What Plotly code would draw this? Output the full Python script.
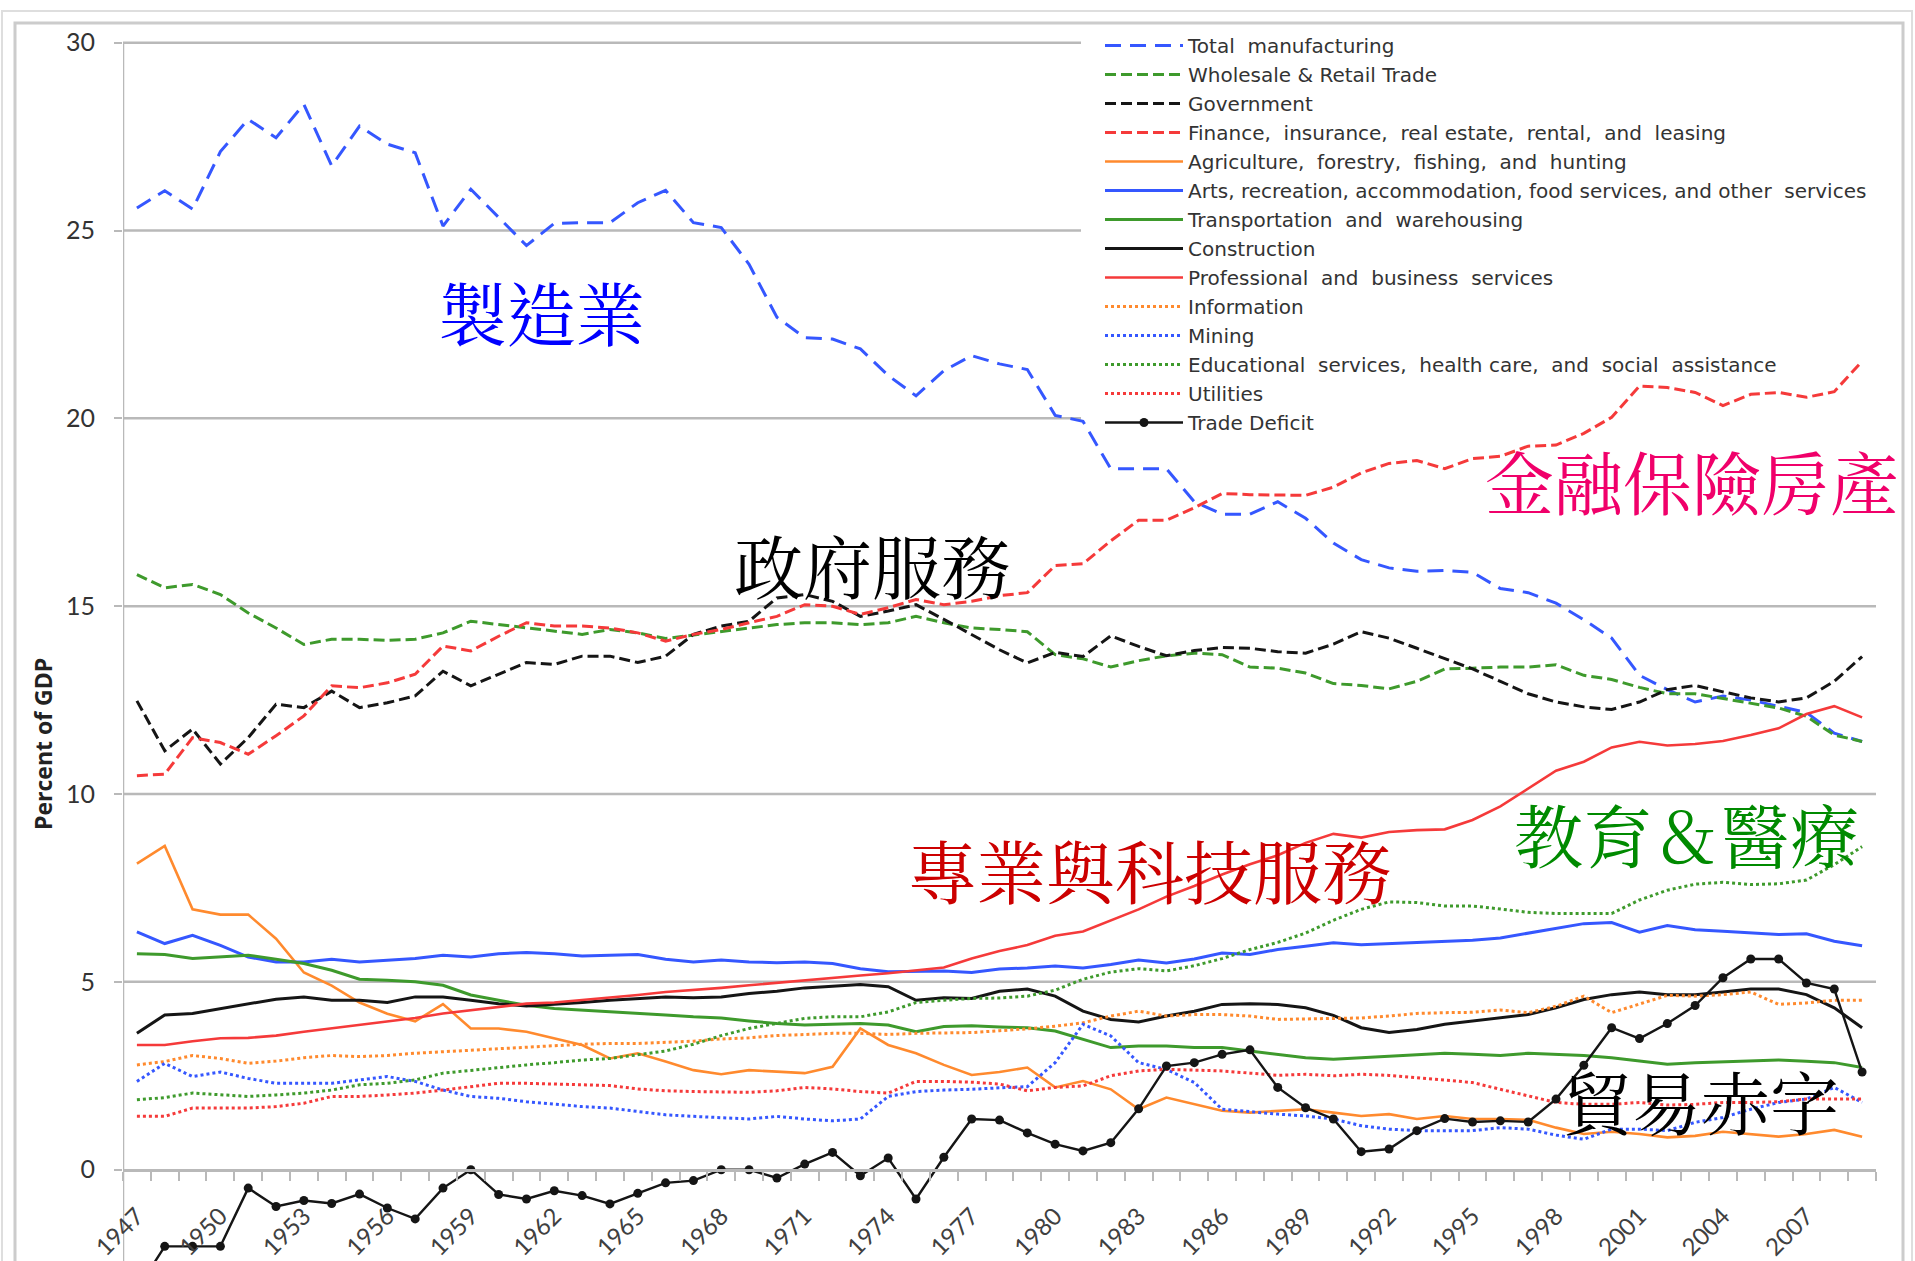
import plotly.graph_objects as go

years = list(range(1947, 2010))

manufacturing = [25.6, 26.06, 25.57, 27.1, 27.96, 27.47, 28.36, 26.72, 27.78, 27.3, 27.07, 25.12, 26.1, 25.35, 24.6, 25.19,
                 25.21, 25.21, 25.74, 26.07, 25.21, 25.08, 24.1, 22.69, 22.15, 22.11, 21.85, 21.14, 20.6, 21.27, 21.67, 21.45,
                 21.3, 20.08, 19.92, 18.66, 18.66, 18.66, 17.78, 17.45, 17.45, 17.78, 17.34, 16.68, 16.24, 16.02, 15.93, 15.95,
                 15.9, 15.47, 15.36, 15.08, 14.64, 14.15, 13.16, 12.78, 12.45, 12.61, 12.5, 12.34, 12.17, 11.62, 11.4]
wholesale = [15.84, 15.49, 15.58, 15.31, 14.82, 14.42, 13.98, 14.12, 14.12, 14.09, 14.12, 14.29, 14.6, 14.51, 14.42, 14.34,
             14.25, 14.38, 14.29, 14.14, 14.23, 14.32, 14.42, 14.51, 14.56, 14.56, 14.51, 14.56, 14.73, 14.56, 14.42, 14.38,
             14.32, 13.71, 13.6, 13.38, 13.55, 13.68, 13.75, 13.71, 13.38, 13.35, 13.22, 12.94, 12.89, 12.8, 13.0, 13.33,
             13.35, 13.38, 13.38, 13.44, 13.16, 13.05, 12.84, 12.67, 12.67, 12.54, 12.4, 12.29, 12.07, 11.57, 11.4]
government = [12.48, 11.15, 11.73, 10.8, 11.5, 12.39, 12.3, 12.74, 12.3, 12.43, 12.61, 13.27, 12.88, 13.19, 13.5, 13.45,
              13.67, 13.67, 13.5, 13.67, 14.25, 14.47, 14.6, 15.22, 15.31, 15.13, 14.73, 14.87, 15.04, 14.65, 14.25, 13.84,
              13.49, 13.77, 13.66, 14.21, 13.93, 13.68, 13.82, 13.9, 13.88, 13.79, 13.75, 13.99, 14.32, 14.15, 13.88, 13.6,
              13.33, 13.0, 12.67, 12.45, 12.32, 12.25, 12.45, 12.78, 12.89, 12.72, 12.56, 12.45, 12.56, 13.0, 13.66]
finance = [10.49, 10.53, 11.5, 11.37, 11.06, 11.55, 12.08, 12.88, 12.83, 12.96, 13.19, 13.94, 13.81, 14.2, 14.56, 14.47,
           14.47, 14.42, 14.29, 14.07, 14.25, 14.38, 14.56, 14.73, 15.04, 15.0, 14.78, 14.96, 15.18, 15.04, 15.13, 15.28,
           15.36, 16.08, 16.13, 16.74, 17.29, 17.29, 17.62, 18.0, 17.97, 17.95, 17.95, 18.17, 18.55, 18.8, 18.88, 18.66,
           18.93, 18.99, 19.26, 19.29, 19.6, 20.03, 20.86, 20.82, 20.69, 20.34, 20.64, 20.69, 20.56, 20.71, 21.52]
agriculture = [8.15, 8.62, 6.93, 6.79, 6.79, 6.15, 5.25, 4.9, 4.45, 4.15, 3.95, 4.41, 3.76, 3.76, 3.67, 3.5,
               3.32, 2.96, 3.1, 2.88, 2.65, 2.54, 2.65, 2.61, 2.57, 2.74, 3.76, 3.32, 3.1, 2.79, 2.52, 2.6,
               2.72, 2.19, 2.36, 2.14, 1.61, 1.92, 1.74, 1.57, 1.52, 1.57, 1.61, 1.52, 1.43, 1.48, 1.35, 1.43,
               1.35, 1.35, 1.33, 1.12, 0.95, 1.01, 0.95, 0.86, 0.9, 1.01, 0.95, 0.88, 0.95, 1.06, 0.88]
arts = [6.33, 6.02, 6.24, 5.97, 5.66, 5.53, 5.53, 5.6, 5.53, 5.58, 5.62, 5.71, 5.66, 5.75, 5.78, 5.75,
        5.69, 5.71, 5.73, 5.6, 5.53, 5.58, 5.53, 5.51, 5.53, 5.49, 5.35, 5.27, 5.27, 5.29, 5.25, 5.34,
        5.37, 5.42, 5.37, 5.46, 5.58, 5.5, 5.61, 5.77, 5.73, 5.86, 5.95, 6.04, 5.99, 6.02, 6.05, 6.08,
        6.11, 6.17, 6.3, 6.43, 6.55, 6.58, 6.32, 6.5, 6.39, 6.35, 6.3, 6.26, 6.28, 6.08, 5.96]
transportation = [5.75, 5.73, 5.62, 5.66, 5.71, 5.6, 5.49, 5.31, 5.07, 5.04, 5.0, 4.91, 4.65, 4.51, 4.38, 4.29,
                  4.25, 4.2, 4.16, 4.12, 4.07, 4.04, 3.96, 3.89, 3.85, 3.87, 3.89, 3.85, 3.67, 3.81, 3.83, 3.8,
                  3.78, 3.69, 3.47, 3.25, 3.29, 3.29, 3.25, 3.25, 3.16, 3.07, 2.98, 2.94, 2.98, 3.03, 3.07, 3.1,
                  3.07, 3.04, 3.1, 3.07, 3.04, 2.98, 2.89, 2.81, 2.85, 2.87, 2.89, 2.92, 2.89, 2.85, 2.72]
construction = [3.63, 4.12, 4.16, 4.29, 4.42, 4.54, 4.6, 4.51, 4.51, 4.45, 4.6, 4.6, 4.51, 4.42, 4.36, 4.4,
                4.45, 4.51, 4.56, 4.6, 4.58, 4.6, 4.69, 4.75, 4.84, 4.89, 4.93, 4.87, 4.51, 4.58, 4.56, 4.75,
                4.81, 4.62, 4.22, 4.0, 3.93, 4.09, 4.22, 4.4, 4.42, 4.4, 4.31, 4.11, 3.78, 3.65, 3.73, 3.87,
                3.96, 4.04, 4.13, 4.31, 4.53, 4.66, 4.73, 4.66, 4.66, 4.73, 4.81, 4.81, 4.66, 4.31, 3.78]
professional = [3.32, 3.32, 3.42, 3.5, 3.51, 3.57, 3.67, 3.76, 3.85, 3.94, 4.04, 4.16, 4.25, 4.34, 4.42, 4.45,
                4.51, 4.58, 4.65, 4.73, 4.78, 4.84, 4.91, 4.98, 5.04, 5.1, 5.17, 5.23, 5.3, 5.38, 5.62, 5.82,
                5.98, 6.23, 6.34, 6.63, 6.93, 7.27, 7.55, 7.86, 8.13, 8.37, 8.7, 8.94, 8.84, 8.99, 9.04, 9.06,
                9.31, 9.67, 10.14, 10.62, 10.86, 11.24, 11.39, 11.29, 11.33, 11.41, 11.57, 11.75, 12.13, 12.34, 12.04]
information = [2.79, 2.88, 3.04, 2.96, 2.83, 2.89, 2.98, 3.04, 3.01, 3.04, 3.1, 3.14, 3.19, 3.23, 3.27, 3.3,
               3.34, 3.36, 3.36, 3.39, 3.42, 3.48, 3.51, 3.57, 3.6, 3.63, 3.63, 3.6, 3.63, 3.65, 3.65, 3.7,
               3.75, 3.82, 3.91, 4.09, 4.22, 4.09, 4.13, 4.13, 4.09, 4.0, 4.02, 4.04, 4.04, 4.09, 4.16, 4.18,
               4.19, 4.25, 4.18, 4.35, 4.62, 4.18, 4.4, 4.64, 4.62, 4.66, 4.73, 4.4, 4.44, 4.51, 4.51]
mining = [2.35, 2.83, 2.48, 2.6, 2.43, 2.3, 2.3, 2.3, 2.39, 2.48, 2.35, 2.12, 1.95, 1.9, 1.81, 1.74,
          1.68, 1.64, 1.55, 1.46, 1.42, 1.39, 1.35, 1.42, 1.35, 1.3, 1.35, 1.95, 2.08, 2.12, 2.14, 2.18,
          2.21, 2.85, 3.87, 3.56, 2.85, 2.67, 2.32, 1.61, 1.54, 1.48, 1.43, 1.35, 1.17, 1.08, 1.04, 1.04,
          1.04, 1.12, 1.08, 0.92, 0.81, 1.08, 1.08, 1.04, 1.26, 1.39, 1.61, 1.79, 1.88, 2.19, 1.79]
education = [1.86, 1.92, 2.04, 1.99, 1.95, 1.99, 2.04, 2.12, 2.26, 2.3, 2.39, 2.57, 2.65, 2.72, 2.79, 2.85,
             2.92, 2.96, 3.05, 3.16, 3.34, 3.57, 3.76, 3.89, 4.03, 4.07, 4.07, 4.2, 4.45, 4.51, 4.56, 4.57,
             4.62, 4.78, 5.07, 5.26, 5.35, 5.29, 5.43, 5.62, 5.86, 6.05, 6.3, 6.64, 6.93, 7.13, 7.11, 7.02,
             7.02, 6.94, 6.85, 6.82, 6.82, 6.82, 7.18, 7.44, 7.6, 7.65, 7.59, 7.61, 7.71, 8.12, 8.6]
utilities = [1.42, 1.42, 1.64, 1.64, 1.64, 1.68, 1.77, 1.95, 1.95, 1.99, 2.04, 2.12, 2.21, 2.3, 2.3, 2.28,
             2.24, 2.24, 2.15, 2.1, 2.08, 2.06, 2.06, 2.1, 2.19, 2.15, 2.08, 2.04, 2.35, 2.35, 2.33, 2.28,
             2.1, 2.19, 2.23, 2.5, 2.63, 2.67, 2.65, 2.63, 2.57, 2.51, 2.54, 2.5, 2.54, 2.51, 2.45, 2.39,
             2.32, 2.14, 1.96, 1.79, 1.74, 1.74, 1.79, 1.72, 1.74, 1.79, 1.79, 1.81, 1.88, 1.88, 1.88]
trade_deficit = [-3.2, -2.04, -2.04, -2.04, -0.49, -0.98, -0.82, -0.9, -0.65, -1.02, -1.31, -0.49, 0.0, -0.66, -0.78, -0.56,
                 -0.69, -0.91, -0.63, -0.35, -0.29, 0.0, 0.0, -0.22, 0.15, 0.46, -0.16, 0.31, -0.78, 0.33, 1.35, 1.32,
                 0.98, 0.68, 0.5, 0.72, 1.62, 2.76, 2.85, 3.07, 3.19, 2.19, 1.65, 1.35, 0.48, 0.55, 1.04, 1.36,
                 1.27, 1.3, 1.27, 1.88, 2.78, 3.78, 3.49, 3.89, 4.37, 5.11, 5.61, 5.61, 4.97, 4.81, 2.6]

x_tick_years = list(range(1947, 2010, 3))
y_ticks = [0, 5, 10, 15, 20, 25, 30]

labels_zh = ["製造業", "政府服務", "金融保險房產", "專業與科技服務", "教育＆醫療", "貿易赤字"]
labels_zh_x = [1961.6, 1973.4, 2002.9, 1983.4, 2002.7, 2003.2]
labels_zh_y = [22.85, 16.1, 18.35, 8.0, 8.95, 1.85]
labels_zh_color = ["#0000FF", "#000000", "#F0006A", "#CC0000", "#008A00", "#000000"]

BLUE = "#3557FF"
GREEN = "#3E9A2C"
BLACK = "#151515"
RED = "#F53A3A"
ORANGE = "#FF8A2E"

W, H = 1915, 1261
PX_LEFT, PX_RIGHT = 123, 1876
PX_Y30, PX_Y0 = 42.7, 1169.7
ppu = (PX_Y0 - PX_Y30) / 30.0
ymax = 30 + PX_Y30 / ppu
ymin = -(H - PX_Y0) / ppu
xmin, xmax = 1946.5, 2009.5

series = [
    ("Total  manufacturing", manufacturing, BLUE, "16px,9px", 3),
    ("Wholesale & Retail Trade", wholesale, GREEN, "11px,5px", 3),
    ("Government", government, BLACK, "11px,5px", 3),
    ("Finance,  insurance,  real estate,  rental,  and  leasing", finance, RED, "11px,5px", 3),
    ("Agriculture,  forestry,  fishing,  and  hunting", agriculture, ORANGE, "solid", 2.6),
    ("Arts, recreation, accommodation, food services, and other  services", arts, BLUE, "solid", 3),
    ("Transportation  and  warehousing", transportation, GREEN, "solid", 3),
    ("Construction", construction, BLACK, "solid", 3),
    ("Professional  and  business  services", professional, RED, "solid", 2.6),
    ("Information", information, ORANGE, "3px,3px", 3),
    ("Mining", mining, BLUE, "3px,3px", 3),
    ("Educational  services,  health care,  and  social  assistance", education, GREEN, "3px,3px", 3),
    ("Utilities", utilities, RED, "3px,3px", 3),
]

fig = go.Figure()
for name, vals, color, dash, w in series:
    fig.add_trace(go.Scatter(x=years, y=vals, name=name, mode="lines",
                             line=dict(color=color, dash=dash, width=w)))
fig.add_trace(go.Scatter(x=years, y=trade_deficit, name="Trade Deficit", mode="lines+markers",
                         line=dict(color=BLACK, width=2.4),
                         marker=dict(color=BLACK, size=9)))

shapes = []
def px2paper(x, y):
    return x / W, 1 - y / H
ox0, oy0 = px2paper(2, 11)
ox1, oy1 = px2paper(1912, H + 10)
shapes.append(dict(type="rect", xref="paper", yref="paper", x0=ox0, y0=oy1, x1=ox1, y1=oy0,
                   line=dict(color="#dedede", width=2), layer="below"))
ix0, iy0 = px2paper(15, 23)
ix1, iy1 = px2paper(1903, H + 10)
shapes.append(dict(type="rect", xref="paper", yref="paper", x0=ix0, y0=iy1, x1=ix1, y1=iy0,
                   line=dict(color="#cccccc", width=3), layer="below"))

legend_left_year = xmin + (1081 - PX_LEFT) / ((PX_RIGHT - PX_LEFT) / (xmax - xmin))
for v in y_ticks:
    if v == 0:
        continue
    shapes.append(dict(type="line", xref="x", yref="y", x0=xmin, x1=(legend_left_year if v >= 20 else xmax),
                       y0=v, y1=v, line=dict(color="#b9b9b9", width=2.5), layer="below"))
shapes.append(dict(type="line", xref="x", yref="y", x0=xmin, x1=xmin, y0=ymin, y1=30,
                   line=dict(color="#b9b9b9", width=2.5), layer="below"))

annotations = []
for t, ax, ay, c in zip(labels_zh, labels_zh_x, labels_zh_y, labels_zh_color):
    annotations.append(dict(text=t, x=ax, y=ay, xref="x", yref="y", showarrow=False,
                            font=dict(family="Noto Serif CJK TC, Noto Sans CJK TC", size=69, color=c),
                            xanchor="center", yanchor="middle"))
annotations.append(dict(text="<b>Percent of GDP</b>", x=43 / W, y=1 - 744 / H, xref="paper", yref="paper",
                        showarrow=False, textangle=-90, font=dict(family="Open Sans", size=23, color="#222222"),
                        xanchor="center", yanchor="middle"))

xpos = (0 - ymin) / (ymax - ymin)

fig.update_layout(
    width=W, height=H,
    margin=dict(l=0, r=0, t=0, b=0, autoexpand=False),
    paper_bgcolor="white", plot_bgcolor="white",
    shapes=shapes, annotations=annotations,
    showlegend=True,
    legend=dict(x=1100 / W, y=1 - 26 / H, xanchor="left", yanchor="top",
                bgcolor="rgba(0,0,0,0)", font=dict(family="DejaVu Sans", size=20, color="#333333"),
                itemwidth=78, tracegroupgap=0, traceorder="normal"),
    xaxis=dict(domain=[PX_LEFT / W, PX_RIGHT / W], range=[xmin, xmax], anchor="free", position=xpos,
               automargin=False,
               showgrid=False, zeroline=False, showline=True, linecolor="#b9b9b9", linewidth=3,
               tickmode="array", tickvals=x_tick_years, ticktext=[str(y) for y in x_tick_years],
               ticks="", tickangle=-45, ticklabelstandoff=21,
               tickfont=dict(family="Lato", size=24, color="#404040"),
               minor=dict(tickmode="array", tickvals=[xmin + k for k in range(0, 64)], ticks="outside",
                          ticklen=9, tickwidth=2, tickcolor="#b9b9b9", showgrid=False)),
    yaxis=dict(domain=[0, 1], range=[ymin, ymax], showgrid=False, zeroline=False, showline=False,
               automargin=False,
               tickmode="array", tickvals=y_ticks, ticks="outside", ticklen=8, tickwidth=2,
               tickcolor="#b9b9b9", ticklabelstandoff=14,
               tickfont=dict(family="Lato", size=25, color="#333333")),
)

fig.write_html("out.html", config={"displayModeBar": False},
               post_script="document.body.style.margin='0';document.body.style.overflow='hidden';")
